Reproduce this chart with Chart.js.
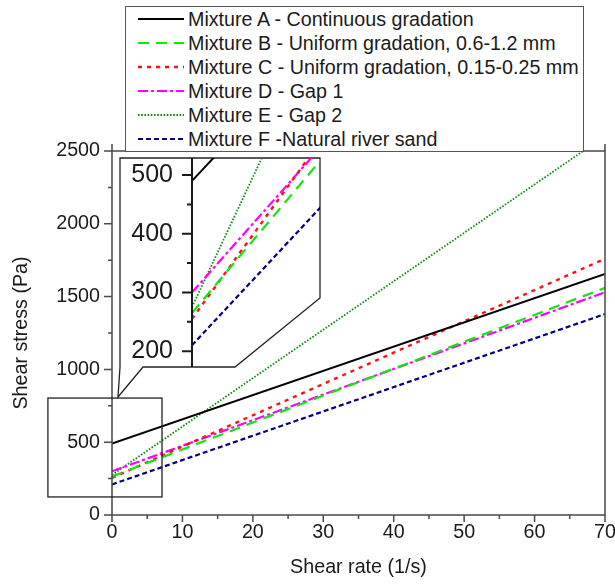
<!DOCTYPE html>
<html>
<head>
<meta charset="utf-8">
<script src="https://cdn.jsdelivr.net/npm/chart.js@4.4.0/dist/chart.umd.min.js"></script>
<style>
  html, body { margin: 0; padding: 0; background: #fff; }
  #wrap { position: relative; width: 615px; height: 584px; font-family: "Liberation Sans", Arial, sans-serif; }
  #main { position: absolute; left: 0; top: 0; }
  #inset { position: absolute; left: 100px; top: 150px; }
  #legend { position: absolute; left: 125px; top: 6px; width: 457px; height: 144px; border: 1px solid #555; background: #fff; }
  .row { height: 24px; display: flex; align-items: center; font-size: 19.7px; color: #1a1a1a; white-space: nowrap; }
  .row svg { margin-left: 12px; margin-right: 4px; flex: none; }
</style>
</head>
<body>
<div id="wrap">
  <canvas id="main" width="615" height="584"></canvas>
  <canvas id="inset" width="230" height="260"></canvas>
  <div id="legend"></div>
</div>
<script>
// shear rate (1/s) at the two ends of each fitted line
const RATE = [0, 70];
// shear stress (Pa)
const MIX_A = [490, 1655];
const MIX_B = [265, 1560];
const MIX_C = [255, 1760];
const MIX_D = [300, 1530];
const MIX_E = [275, 2603];
const MIX_F = [210, 1380];

const LABELS = [
    'Mixture A - Continuous gradation',
    'Mixture B - Uniform gradation, 0.6-1.2 mm',
    'Mixture C - Uniform gradation, 0.15-0.25 mm',
    'Mixture D - Gap 1',
    'Mixture E - Gap 2',
    'Mixture F -Natural river sand'
];
const X_TICKS = [0, 10, 20, 30, 40, 50, 60, 70];
const Y_TICKS = [0, 500, 1000, 1500, 2000, 2500];
const INSET_Y_TICKS = [200, 300, 400, 500];
// region of the main plot that the inset magnifies (x range, y range)
const ZOOM_X = [-9.1, 7.1];
const ZOOM_Y = [124, 803];
const INSET_X = [0, 14];
const INSET_Y = [173, 529];

const COLORS = ['#000000', '#11e611', '#ff1010', '#ff00ff', '#138a13', '#000080'];
const DASHES = [[], [11, 7], [4, 5], [10, 3, 3, 3], [1.6, 1.6], [5, 3]];
const WIDTHS = [2, 2.2, 2.4, 2.2, 1.8, 2.2];

const FONT = "'Liberation Sans', Arial, sans-serif";
const INK = '#1a1a1a';

function toPoints(ys) {
    return RATE.map((x, i) => ({ x: x, y: ys[i] }));
}

function buildDatasets() {
    return [MIX_A, MIX_B, MIX_C, MIX_D, MIX_E, MIX_F].map((ys, i) => ({
        label: LABELS[i],
        data: toPoints(ys),
        borderColor: COLORS[i],
        borderDash: DASHES[i],
        borderWidth: WIDTHS[i],
        pointRadius: 0,
        fill: false,
        tension: 0
    }));
}

// axis box, tick marks (major + minor) and the zoom rectangle
const mainFrame = {
    id: 'mainFrame',
    afterDatasetsDraw(chart) {
        const { ctx, chartArea: a, scales: { x, y } } = chart;
        ctx.save();
        ctx.strokeStyle = '#4a4a4a';
        ctx.lineWidth = 1.5;
        ctx.strokeRect(a.left, a.top, a.right - a.left, a.bottom - a.top);
        ctx.beginPath();
        for (let v = 0; v <= 70; v += 5) {
            const px = x.getPixelForValue(v);
            const len = v % 10 === 0 ? 7 : 4;
            ctx.moveTo(px, a.bottom); ctx.lineTo(px, a.bottom + len);
            ctx.moveTo(px, a.top); ctx.lineTo(px, a.top - len);
        }
        for (let v = 0; v <= 2500; v += 250) {
            const py = y.getPixelForValue(v);
            const len = v % 500 === 0 ? 8 : 4;
            ctx.moveTo(a.left, py); ctx.lineTo(a.left - len, py);
        }
        ctx.stroke();

        const x0 = x.getPixelForValue(ZOOM_X[0]), x1 = x.getPixelForValue(ZOOM_X[1]);
        const y0 = y.getPixelForValue(ZOOM_Y[1]), y1 = y.getPixelForValue(ZOOM_Y[0]);
        ctx.strokeStyle = '#222';
        ctx.lineWidth = 1.3;
        ctx.strokeRect(x0, y0, x1 - x0, y1 - y0);
        ctx.restore();
    }
};

// callout outline with the clipped corner and pointer, plus the inset y axis
const insetFrame = {
    id: 'insetFrame',
    beforeDraw(chart) {
        const { ctx, chartArea: a } = chart;
        ctx.save();
        ctx.beginPath();
        ctx.moveTo(a.left - 72, a.top);
        ctx.lineTo(a.right, a.top);
        ctx.lineTo(a.right, a.bottom - 69);
        ctx.lineTo(a.left + 43, a.bottom);
        ctx.lineTo(a.left - 49, a.bottom);
        ctx.lineTo(a.left - 74, a.bottom + 30);
        ctx.lineTo(a.left - 72, a.bottom);
        ctx.closePath();
        ctx.fillStyle = '#fff';
        ctx.fill();
        ctx.strokeStyle = '#222';
        ctx.lineWidth = 1.3;
        ctx.stroke();
        ctx.restore();
    },
    afterDatasetsDraw(chart) {
        const { ctx, chartArea: a, scales: { y } } = chart;
        ctx.save();
        ctx.strokeStyle = '#1a1a1a';
        ctx.lineWidth = 2;
        ctx.beginPath();
        ctx.moveTo(a.left, a.top); ctx.lineTo(a.left, a.bottom);
        for (let v = 200; v <= 500; v += 50) {
            const py = y.getPixelForValue(v);
            const len = v % 100 === 0 ? 10 : 5;
            ctx.moveTo(a.left, py); ctx.lineTo(a.left - len, py);
        }
        ctx.stroke();
        ctx.restore();
    }
};

function fixTicks(values) {
    return scale => { scale.ticks = values.map(v => ({ value: v })); };
}

const plainLabel = v => String(v);

new Chart(document.getElementById('main'), {
    type: 'line',
    data: { datasets: buildDatasets() },
    options: {
        responsive: false,
        animation: false,
        layout: { padding: { left: 0, right: 10, top: 151, bottom: 0 } },
        plugins: { legend: { display: false }, tooltip: { enabled: false } },
        scales: {
            x: {
                type: 'linear', min: 0, max: 70,
                afterBuildTicks: fixTicks(X_TICKS),
                grid: { display: false, drawTicks: false },
                border: { display: false },
                ticks: { color: INK, padding: 6, callback: plainLabel, font: { family: FONT, size: 19.7 } },
                title: { display: true, text: 'Shear rate (1/s)', color: INK, padding: { top: 0, bottom: 5 }, font: { family: FONT, size: 19.7 } },
                afterFit: s => { s.height = 69; s.paddingLeft = 0; s.paddingRight = 0; }
            },
            y: {
                type: 'linear', min: 0, max: 2500,
                afterBuildTicks: fixTicks(Y_TICKS),
                grid: { display: false, drawTicks: false },
                border: { display: false },
                ticks: { color: INK, padding: 12, callback: plainLabel, font: { family: FONT, size: 19.7 } },
                title: { display: true, text: 'Shear stress (Pa)', color: INK, padding: { top: 10, bottom: 0 }, font: { family: FONT, size: 19.7 } },
                afterFit: s => { s.width = 112; s.paddingTop = 0; s.paddingBottom = 0; }
            }
        }
    },
    plugins: [mainFrame]
});

new Chart(document.getElementById('inset'), {
    type: 'line',
    data: { datasets: buildDatasets() },
    options: {
        responsive: false,
        animation: false,
        layout: { padding: { left: 0, right: 10, top: 8, bottom: 43 } },
        plugins: { legend: { display: false }, tooltip: { enabled: false } },
        scales: {
            x: { type: 'linear', min: INSET_X[0], max: INSET_X[1], display: false },
            y: {
                type: 'linear', min: INSET_Y[0], max: INSET_Y[1],
                afterBuildTicks: fixTicks(INSET_Y_TICKS),
                grid: { display: false, drawTicks: false },
                border: { display: false },
                ticks: { color: INK, padding: 19, callback: plainLabel, font: { family: FONT, size: 25 } },
                afterFit: s => { s.width = 92; s.paddingTop = 0; s.paddingBottom = 0; }
            }
        }
    },
    plugins: [insetFrame]
});

// legend box with line samples
const legend = document.getElementById('legend');
legend.innerHTML = LABELS.map((label, i) => {
    const dash = DASHES[i].length ? DASHES[i].join(' ') : 'none';
    return `<div class="row"><svg width="46" height="8"><line x1="0" y1="4" x2="46" y2="4" stroke="${COLORS[i]}" stroke-width="${WIDTHS[i]}" stroke-dasharray="${dash}"/></svg><span>${label}</span></div>`;
}).join('');
</script>
</body>
</html>
